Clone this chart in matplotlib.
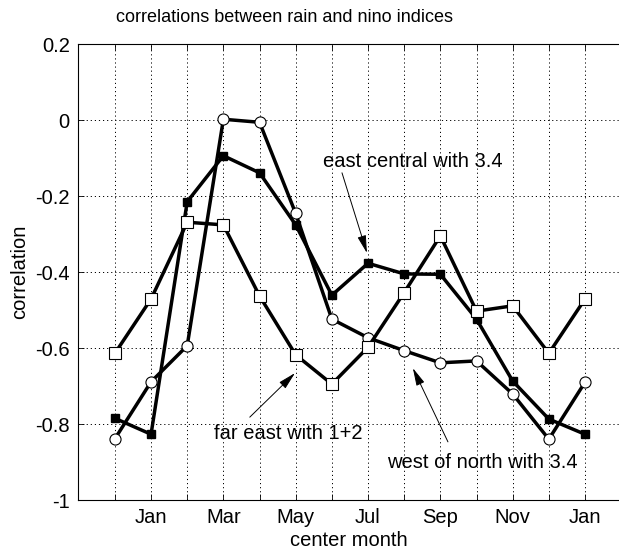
import matplotlib
matplotlib.use('Agg')
import matplotlib.pyplot as plt
import numpy as np

plt.rcParams['font.family'] = ['Liberation Sans', 'DejaVu Sans']

# centre months, Dec .. Jan (14 points)
months = ['Dec', 'Jan', 'Feb', 'Mar', 'Apr', 'May', 'Jun', 'Jul',
          'Aug', 'Sep', 'Oct', 'Nov', 'Dec', 'Jan']

east_central = [-0.785, -0.827, -0.215, -0.094, -0.139, -0.276, -0.461,
                -0.377, -0.405, -0.406, -0.524, -0.687, -0.787, -0.827]
west_north = [-0.839, -0.689, -0.594, 0.002, -0.006, -0.246, -0.524,
              -0.573, -0.607, -0.639, -0.634, -0.721, -0.840, -0.690]
far_east = [-0.614, -0.471, -0.269, -0.276, -0.463, -0.618, -0.695,
            -0.598, -0.454, -0.305, -0.503, -0.489, -0.614, -0.471]

yticks = [-1, -0.8, -0.6, -0.4, -0.2, 0, 0.2]
ytick_labels = ['-1', '-0.8', '-0.6', '-0.4', '-0.2', '0', '0.2']

x = np.arange(len(months))

fig = plt.figure(figsize=(6.19, 5.5), dpi=100)
ax = fig.add_axes([78/619., 50/550., 541/619., 456/550.])

lw = 2.5
ax.plot(x, east_central, '-s', color='k', lw=lw, ms=6, mfc='k', mec='k', zorder=3)
ax.plot(x, west_north, '-o', color='k', lw=lw, ms=8, mfc='w', mec='k', mew=0.8, zorder=4)
ax.plot(x, far_east, '-s', color='k', lw=lw, ms=8.5, mfc='w', mec='k', mew=0.8, zorder=5)

ax.set_xlim(-1.02, 13.94)
ax.set_ylim(-1, 0.2)
ax.set_xticks(x)
ax.set_xticklabels([m if i % 2 == 1 else '' for i, m in enumerate(months)], fontsize=14.5)
ax.set_yticks(yticks)
ax.set_yticklabels(ytick_labels, fontsize=14.5)
ax.tick_params(direction='in', length=4, width=0.6, top=True, pad=6)
ax.grid(True, color='k', linestyle=(0, (1.2, 3)), linewidth=0.7)
ax.spines['right'].set_visible(False)
for s in ['left', 'top', 'bottom']:
    ax.spines[s].set_linewidth(0.8)

ax.set_ylabel('correlation', fontsize=14.5, labelpad=4)
ax.set_xlabel('center month', fontsize=14.5, labelpad=3)
fig.text(285/619., 1 - 18/550., 'correlations between rain and nino indices',
         ha='center', va='center', fontsize=13)

aprops = dict(arrowstyle='-|>,head_length=0.9,head_width=0.22', lw=0.7,
              color='k', shrinkA=0, shrinkB=0, mutation_scale=12)

ax.text(8.24, -0.108, 'east central with 3.4', ha='center', va='center', fontsize=14.5)
ax.annotate('', xy=(6.97, -0.35), xytext=(6.28, -0.139), arrowprops=aprops)

ax.text(4.79, -0.824, 'far east with 1+2', ha='center', va='center', fontsize=14.5)
ax.annotate('', xy=(4.98, -0.666), xytext=(3.73, -0.782), arrowprops=aprops)

ax.text(10.17, -0.9, 'west of north with 3.4', ha='center', va='center', fontsize=14.5)
ax.annotate('', xy=(8.24, -0.653), xytext=(9.21, -0.847), arrowprops=aprops)

fig.savefig('out.png', dpi=100)
